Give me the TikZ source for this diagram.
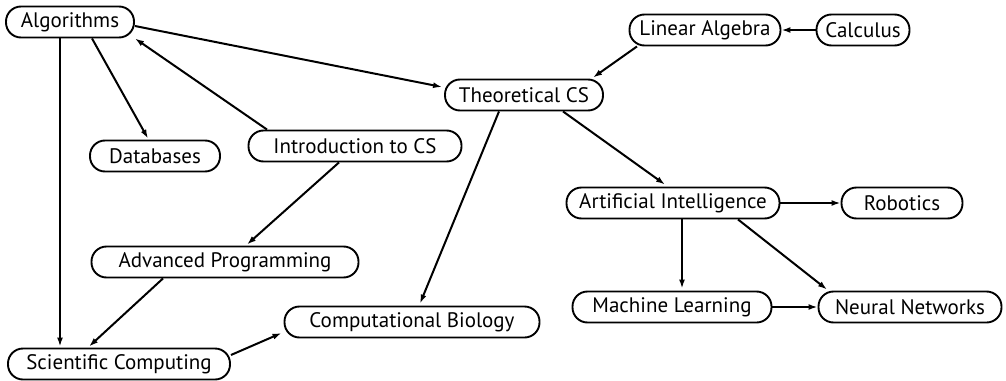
\documentclass[tikz,border=0pt]{standalone}
\usepackage{fontspec}
\setmainfont{PT Sans}
\usetikzlibrary{arrows.meta}
\begin{document}
\begin{tikzpicture}[x=1pt,y=-1pt,
  topic/.style={draw, line width=1.9pt, rounded corners=15pt, minimum height=31pt, inner sep=0pt, font=\fontsize{21}{24}\selectfont},
  link/.style={line width=2pt, -{Latex[length=9pt,width=6pt]}}]
\useasboundingbox (0,0) rectangle (1006,380);
\node[topic, minimum width=128pt] (alg) at (70,22) {Algorithms};
\node[topic, minimum width=151pt] (linalg) at (705,30) {Linear Algebra};
\node[topic, minimum width=93pt] (calc) at (863,30) {Calculus};
\node[topic, minimum width=158pt] (tcs) at (524,95) {Theoretical CS};
\node[topic, minimum width=130pt] (db) at (155,156) {Databases};
\node[topic, minimum width=213pt] (intro) at (355,146) {Introduction to CS};
\node[topic, minimum width=267pt] (adv) at (225,262) {Advanced Programming};
\node[topic, minimum width=255pt] (compbio) at (412,322) {Computational Biology};
\node[topic, minimum width=222pt] (sci) at (119,364) {Scientific Computing};
\node[topic, minimum width=213pt] (ai) at (673,203) {Artificial Intelligence};
\node[topic, minimum width=121pt] (rob) at (902,203) {Robotics};
\node[topic, minimum width=199pt] (ml) at (672,307) {Machine Learning};
\node[topic, minimum width=183pt] (nn) at (910,307) {Neural Networks};

\draw[link] ([yshift=-4pt]alg.east) -- ([yshift=8pt,xshift=-2pt]tcs.west);
\draw[link] ([xshift=-88pt]intro.north) -- (alg.south east);
\draw[link] ([xshift=22pt]alg.south) -- ([xshift=-7pt,yshift=1pt]db.north);
\draw[link] ([xshift=-10pt]alg.south) -- ([xshift=-59pt,yshift=1pt]sci.north);
\draw[link] ([xshift=-68pt]linalg.south) -- ([xshift=69pt,yshift=1pt]tcs.north);
\draw[link] (calc.west) -- (linalg.east);
\draw[link] ([xshift=-25pt]tcs.south) -- ([xshift=8pt,yshift=2pt]compbio.north);
\draw[link] ([xshift=39pt]tcs.south) -- ([xshift=-8pt,yshift=2pt]ai.north);
\draw[link] ([xshift=-16pt]intro.south) -- ([xshift=22pt,yshift=1pt]adv.north);
\draw[link] ([xshift=-62pt]adv.south) -- ([xshift=-30pt,yshift=1pt]sci.north);
\draw[link] ([yshift=9pt]sci.east) -- ([yshift=-11pt,xshift=-2pt]compbio.west);
\draw[link] (ai.east) -- (rob.west);
\draw[link] ([xshift=9pt]ai.south) -- ([xshift=10pt,yshift=2pt]ml.north);
\draw[link] ([xshift=65pt]ai.south) -- ([xshift=-83pt,yshift=1pt]nn.north);
\draw[link] (ml.east) -- (nn.west);
\end{tikzpicture}
\end{document}
